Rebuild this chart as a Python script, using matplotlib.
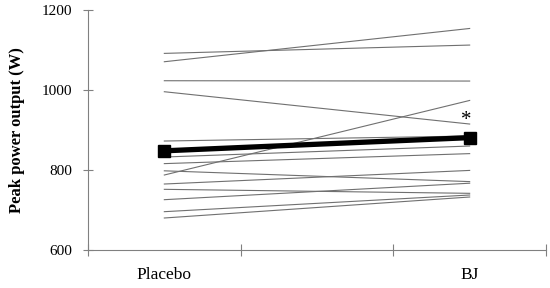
import matplotlib.pyplot as plt

plt.rcParams['font.family'] = ['Liberation Serif', 'DejaVu Serif']

conditions = ["Placebo", "BJ"]
placebo = [1091.7, 1070.8, 1023.3, 995.8, 787.5, 872.5, 832.5, 816,
           798, 765, 751.7, 725.8, 695.8, 680]
bj = [1112.5, 1154, 1022.5, 915, 974, 885, 860, 841,
      771, 799, 741.7, 767, 737.5, 732.5]
mean_values = [848, 881]

xpos = [0.5, 2.5]

fig = plt.figure(figsize=(5.5, 2.88), dpi=100)
ax = fig.add_axes([0.16, 0.132, 0.8327, 0.833])

for p, b in zip(placebo, bj):
    ax.plot(xpos, [p, b], color="#707070", linewidth=0.8, zorder=2)

ax.plot(xpos, mean_values, color="black", linewidth=3.8, marker="s",
        markersize=9, zorder=3)
ax.text(xpos[1] - 0.02, 900, "*", ha="center", va="bottom", fontsize=15)

ax.set_xlim(0, 3)
ax.set_ylim(600, 1200)
ax.set_yticks([600, 800, 1000, 1200])
ax.set_xticks([0, 1, 2, 3])
ax.set_xticklabels([])
ax.set_xticks(xpos, minor=True)
ax.set_xticklabels(conditions, minor=True, fontsize=12.5)
ax.tick_params(axis="x", which="minor", length=0, pad=12)
ax.tick_params(axis="x", which="major", direction="inout", length=8,
               color="#808080", width=0.8)
ax.tick_params(axis="y", direction="inout", length=7, color="#808080",
               width=0.8, labelsize=11, pad=8)

for side in ["top", "right"]:
    ax.spines[side].set_visible(False)
for side in ["left", "bottom"]:
    ax.spines[side].set_color("#808080")
    ax.spines[side].set_linewidth(0.8)

ax.set_ylabel("Peak power output (W)", fontsize=12, fontweight="bold",
              labelpad=12)

fig.savefig("out.png", dpi=100)
